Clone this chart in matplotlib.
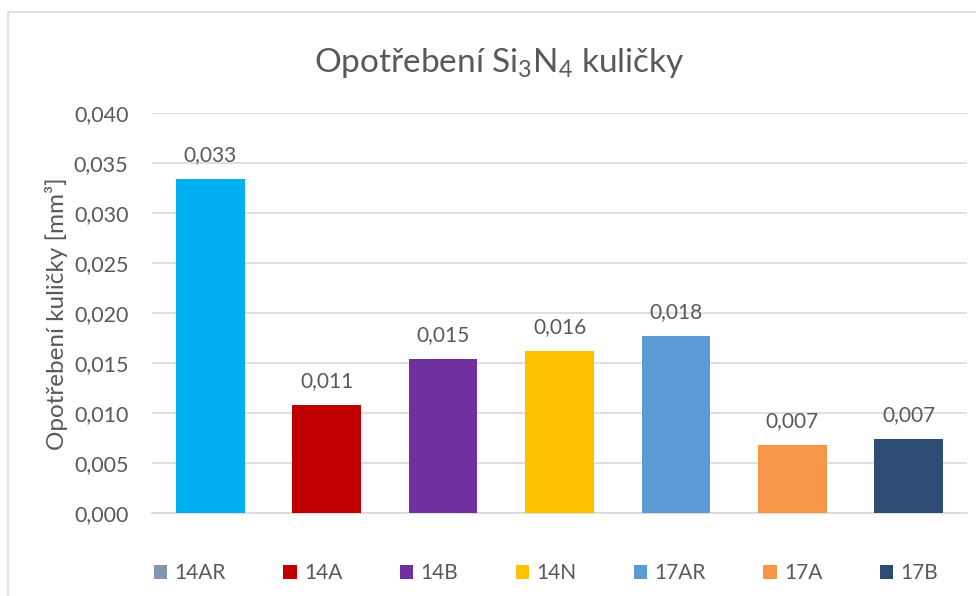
import matplotlib.pyplot as plt
from matplotlib.patches import Patch, Rectangle
from matplotlib.ticker import FuncFormatter

plt.rcParams['font.family'] = ['Lato', 'DejaVu Sans']
plt.rcParams['mathtext.default'] = 'regular'

samples = ["14AR", "14A", "14B", "14N", "17AR", "17A", "17B"]
wear = [0.0334, 0.0108, 0.0154, 0.0162, 0.0177, 0.0068, 0.0074]
bar_colors = ["#00B0F0", "#C00000", "#7030A0", "#FFC000", "#5B9BD5", "#F79646", "#2E4D75"]
legend_colors = ["#8497B0", "#C00000", "#7030A0", "#FFC000", "#5B9BD5", "#F79646", "#2E4D75"]
yticks = [0.000, 0.005, 0.010, 0.015, 0.020, 0.025, 0.030, 0.035, 0.040]

TEXT = "#595959"
GRID = "#D9D9D9"

fig = plt.figure(figsize=(9.76, 5.96), dpi=100)
ax = fig.add_axes([152 / 976, 0.139, 815 / 976, 0.671])

# outer chart frame
fig.patches.append(Rectangle((8 / 976, -0.1), 1.2, (596 - 12) / 596 + 0.1,
                             transform=fig.transFigure, fill=False,
                             edgecolor=GRID, linewidth=1.2))

x = range(len(samples))
bars = ax.bar(x, wear, width=0.59, color=bar_colors, zorder=3)

for rect, v in zip(bars, wear):
    ax.annotate(f"{v:.3f}".replace(".", ","),
                (rect.get_x() + rect.get_width() / 2, v),
                xytext=(0, 10), textcoords="offset points",
                ha="center", va="bottom", fontsize=15, color=TEXT)

ax.set_xlim(-0.5, len(samples) - 0.5)
ax.set_ylim(0, 0.040)
ax.set_yticks(yticks)
ax.yaxis.set_major_formatter(FuncFormatter(lambda v, p: f"{v:.3f}".replace(".", ",")))
ax.set_xticks([])
ax.tick_params(axis="y", length=0, pad=17, labelsize=15.5, labelcolor=TEXT)
ax.grid(axis="y", color=GRID, linewidth=1.2, zorder=0)
for s in ["top", "right", "left"]:
    ax.spines[s].set_visible(False)
ax.spines["bottom"].set_color(GRID)
ax.spines["bottom"].set_linewidth(1.2)

ax.set_ylabel("Opotřebení kuličky [mm³]", fontsize=17.5, color=TEXT, labelpad=4)
fig.text(0.511, 0.895, "Opotřebení Si$_3$N$_4$ kuličky", ha="center", va="center",
         fontsize=24, color=TEXT)

handles = [Patch(facecolor=c, edgecolor="none") for c in legend_colors]
fig.legend(handles, samples, loc="center", bbox_to_anchor=(546 / 976, 0.038), ncol=7,
           frameon=False, fontsize=15, labelcolor=TEXT, handlelength=0.65,
           handleheight=0.65, handletextpad=0.35, columnspacing=2.75)

fig.savefig("out.png", dpi=100)
